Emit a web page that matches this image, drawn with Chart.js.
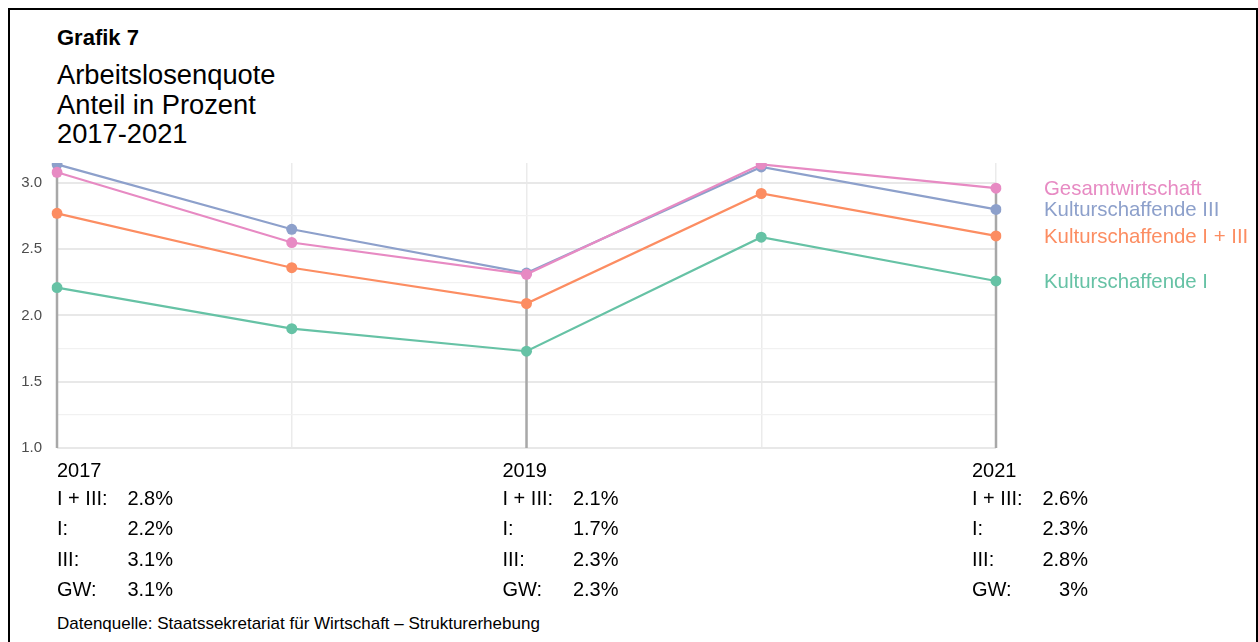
<!DOCTYPE html>
<html>
<head>
<meta charset="utf-8">
<script src="https://cdn.jsdelivr.net/npm/chart.js@4"></script>
<style>
    body { margin: 0; background: #ffffff; overflow: hidden; font-family: 'Liberation Sans', Arial, sans-serif; }
    #rahmen { position: absolute; left: 8px; top: 8px; width: 1246px; height: 700px; border: 2px solid #000; border-bottom: none; }
    .txt { position: absolute; left: 57px; color: #000; white-space: nowrap; }
    #grafik { top: 25px; font-size: 22px; font-weight: bold; }
    #titel { top: 60px; font-size: 27.3px; line-height: 29.5px; }
    #quelle { top: 614px; font-size: 17px; }
    canvas { position: absolute; left: 0; top: 0; }
</style>
</head>
<body>
<div id="rahmen"></div>
<div class="txt" id="grafik">Grafik 7</div>
<div class="txt" id="titel">Arbeitslosenquote<br>Anteil in Prozent<br>2017-2021</div>
<div class="txt" id="quelle">Datenquelle: Staatssekretariat für Wirtschaft – Strukturerhebung</div>
<canvas id="grafik-quote" width="1258" height="642"></canvas>
<script>
// Werte
const jahre = ['2017', '2018', '2019', '2020', '2021'];
const quoteGesamt = [3.08, 2.55, 2.31, 3.14, 2.96];
const quoteKulturIII = [3.14, 2.65, 2.32, 3.12, 2.80];
const quoteKulturIundIII = [2.77, 2.36, 2.09, 2.92, 2.60];
const quoteKulturI = [2.21, 1.90, 1.73, 2.59, 2.26];

const yTicks = [1.0, 1.25, 1.5, 1.75, 2.0, 2.25, 2.5, 2.75, 3.0];

// Tabelle unter der Grafik
const tabelleJahre = ['2017', '2019', '2021'];
const tabelleIndex = [0, 2, 4];
const tabelleLabels = ['I + III:', 'I:', 'III:', 'GW:'];
const tabelleIundIII = [2.8, 2.1, 2.6];
const tabelleI = [2.2, 1.7, 2.3];
const tabelleIII = [3.1, 2.3, 2.8];
const tabelleGW = [3.1, 2.3, 3];

const schrift = "'Liberation Sans', Arial, sans-serif";

// Graue Linien an den Jahren mit Tabelle, Beschriftungen rechts und Tabelle unten
const zusatz = {
    id: 'zusatz',
    beforeDatasetsDraw(chart) {
        const ctx = chart.ctx;
        const x = chart.scales.x;
        const y = chart.scales.y;
        ctx.save();
        ctx.strokeStyle = '#a8a8a8';
        ctx.lineWidth = 2.5;
        tabelleIndex.forEach(function (i) {
            const max = Math.max(...chart.data.datasets.map(d => d.data[i]));
            const px = x.getPixelForValue(i);
            ctx.beginPath();
            ctx.moveTo(px, y.getPixelForValue(max));
            ctx.lineTo(px, y.bottom);
            ctx.stroke();
        });
        ctx.restore();
    },
    afterDatasetsDraw(chart) {
        const ctx = chart.ctx;
        const x = chart.scales.x;
        const y = chart.scales.y;
        ctx.save();
        ctx.font = '20.4px ' + schrift;
        ctx.textBaseline = 'middle';
        ctx.textAlign = 'left';
        chart.data.datasets.forEach(function (d) {
            const last = d.data[d.data.length - 1];
            ctx.fillStyle = d.borderColor;
            ctx.fillText(d.label, x.right + 48, y.getPixelForValue(last) + 1);
        });

        ctx.font = '20px ' + schrift;
        ctx.fillStyle = '#000';
        const werte = [tabelleIundIII, tabelleI, tabelleIII, tabelleGW];
        tabelleIndex.forEach(function (idx, k) {
            const px = x.getPixelForValue(idx);
            const x0 = k === 0 ? px : px - 24;
            ctx.textAlign = 'left';
            ctx.fillText(tabelleJahre[k], x0, y.bottom + 23);
            tabelleLabels.forEach(function (lab, r) {
                const yy = y.bottom + 51 + r * 30.5;
                ctx.textAlign = 'left';
                ctx.fillText(lab, x0, yy);
                ctx.textAlign = 'right';
                ctx.fillText(String(werte[r][k]) + '%', x0 + 116, yy);
            });
        });
        ctx.restore();
    }
};

function serie(label, werte, farbe, order) {
    return {
        label: label,
        data: werte,
        borderColor: farbe,
        backgroundColor: farbe,
        borderWidth: 2.2,
        pointRadius: 5.5,
        pointBorderWidth: 0,
        pointBackgroundColor: farbe,
        tension: 0,
        order: order,
    };
}

new Chart(document.getElementById('grafik-quote'), {
    type: 'line',
    data: {
        labels: jahre,
        datasets: [
            serie('Gesamtwirtschaft', quoteGesamt, '#e78ac3', 0),
            serie('Kulturschaffende III', quoteKulturIII, '#8da0cb', 1),
            serie('Kulturschaffende I + III', quoteKulturIundIII, '#fc8d62', 2),
            serie('Kulturschaffende I', quoteKulturI, '#66c2a5', 3),
        ],
    },
    plugins: [zusatz],
    options: {
        responsive: false,
        animation: false,
        layout: {
            padding: { top: 163, right: 262, bottom: 194, left: 0 },
        },
        plugins: {
            legend: { display: false },
            tooltip: { enabled: false },
        },
        scales: {
            x: {
                offset: false,
                border: { display: false },
                grid: { color: '#ebebeb', lineWidth: 1.5, drawTicks: false },
                ticks: { display: false },
                afterFit: function (scale) { scale.height = 0; },
            },
            y: {
                min: 1.0,
                max: 3.15,
                border: { display: false },
                afterBuildTicks: function (scale) {
                    scale.ticks = yTicks.map(v => ({ value: v }));
                },
                afterFit: function (scale) { scale.width = 57; },
                grid: {
                    drawTicks: false,
                    color: function (c) {
                        return c.tick && Math.abs(c.tick.value * 2 - Math.round(c.tick.value * 2)) < 1e-6 ? '#e8e8e8' : '#f1f1f1';
                    },
                    lineWidth: function (c) {
                        return c.tick && Math.abs(c.tick.value * 2 - Math.round(c.tick.value * 2)) < 1e-6 ? 2 : 1.2;
                    },
                },
                ticks: {
                    padding: 15,
                    color: '#4d4d4d',
                    font: { family: schrift, size: 15 },
                    callback: function (v) {
                        return Math.abs(v * 2 - Math.round(v * 2)) < 1e-6 ? Number(v).toFixed(1) : '';
                    },
                },
            },
        },
    },
});
</script>
</body>
</html>
